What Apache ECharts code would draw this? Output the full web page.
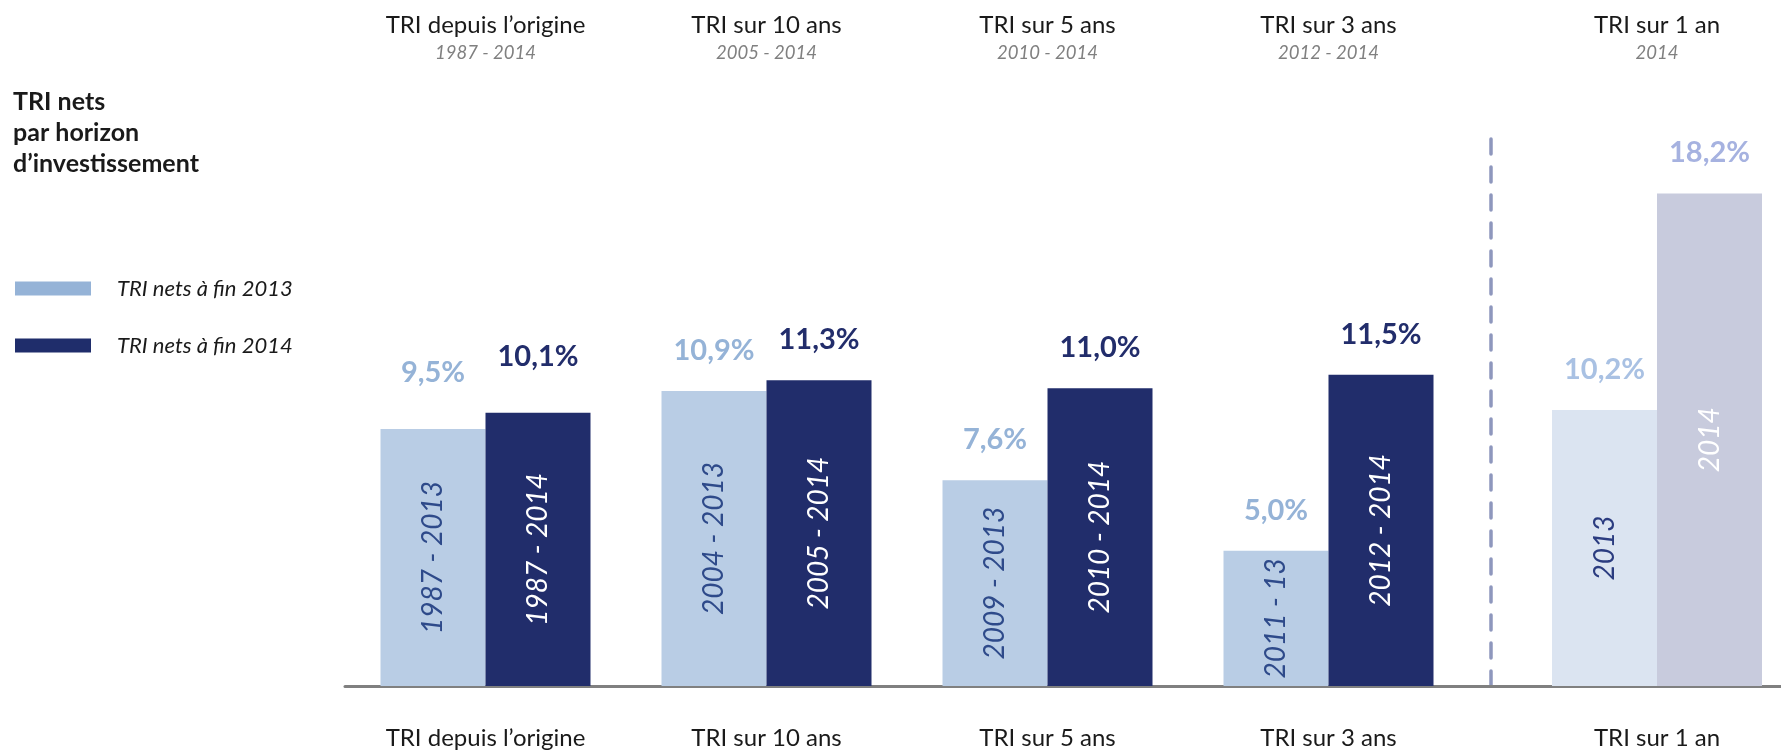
<!DOCTYPE html>
<html>
<head>
<meta charset="utf-8">
<script src="https://cdn.jsdelivr.net/npm/echarts@6/dist/echarts.min.js"></script>
<style>
  html, body { margin: 0; padding: 0; background: #fff; }
  #main { width: 1781px; height: 751px; }
</style>
</head>
<body>
<div id="main"></div>
<script type="text/javascript">
// horizons (4 first groups)
var horizons = ['TRI depuis l\u2019origine', 'TRI sur 10 ans', 'TRI sur 5 ans', 'TRI sur 3 ans'];
var horizonYears = ['1987 - 2014', '2005 - 2014', '2010 - 2014', '2012 - 2014'];
var tri2013 = [9.5, 10.9, 7.6, 5.0];
var tri2014 = [10.1, 11.3, 11.0, 11.5];
var periods2013 = ['1987 - 2013', '2004 - 2013', '2009 - 2013', '2011 - 13'];
var periods2014 = ['1987 - 2014', '2005 - 2014', '2010 - 2014', '2012 - 2014'];

// horizon 1 an (separate group, right of the dashed line)
var oneYear = ['TRI sur 1 an'];
var oneYearYears = ['2014'];
var oneYear2013 = [10.2];
var oneYear2014 = [18.2];
var oneYearPeriods2013 = ['2013'];
var oneYearPeriods2014 = ['2014'];

var legendNames = ['TRI nets \u00e0 fin 2013', 'TRI nets \u00e0 fin 2014'];

var FONT = 'Lato, "Open Sans", sans-serif';
var Y_MAX = 20.4;

function pct(v) {
    return v.toFixed(1).replace('.', ',') + '%';
}

var myChart = echarts.init(document.getElementById('main'));

function periodLabel(list, color) {
    return {
        show: true,
        position: 'inside',
        rotate: 90,
        fontFamily: FONT,
        fontStyle: 'italic',
        fontSize: 28,
        color: color,
        formatter: function (p) { return list[p.dataIndex]; }
    };
}

function pctLabel(color) {
    return {
        show: true,
        position: 'top',
        distance: 26,
        fontFamily: FONT,
        fontWeight: 'bold',
        fontSize: 29,
        color: color,
        formatter: function (p) { return pct(p.value); }
    };
}

// percent labels: transparent bars on the top axis, same geometry
function pctData(values, firstDist) {
    return values.map(function (v, i) {
        var d = { value: v };
        if (i === 0 && firstDist) d.label = { distance: firstDist };
        return d;
    });
}

var topLabel = {
    margin: 67,
    formatter: function (v, i) { return '{t|' + v + '}\n{y|' + (v === oneYear[0] ? oneYearYears[0] : horizonYears[i]) + '}'; },
    rich: {
        t: { fontFamily: FONT, fontSize: 24, color: '#1a1a1a', lineHeight: 28 },
        y: { fontFamily: FONT, fontSize: 18.5, fontStyle: 'italic', color: '#808080', lineHeight: 28 }
    }
};

var bottomLabel = { margin: 40, fontFamily: FONT, fontSize: 24, color: '#1a1a1a' };

var option = {
    animation: false,
    backgroundColor: '#fff',
    title: {
        text: 'TRI nets\npar horizon\nd\u2019investissement',
        left: 13,
        top: 86.5,
        padding: 0,
        textStyle: { fontFamily: FONT, fontSize: 25, fontWeight: 'bold', color: '#1a1a1a', lineHeight: 31 }
    },
    legend: {
        orient: 'vertical',
        left: 15,
        top: 277.5,
        padding: 0,
        itemWidth: 76,
        itemHeight: 14,
        itemGap: 35,
        icon: 'rect',
        selectedMode: false,
        textStyle: { fontFamily: FONT, fontSize: 22, fontStyle: 'italic', color: '#1a1a1a', padding: [0, 0, 0, 21] },
        data: [
            { name: legendNames[0], itemStyle: { color: '#95b3d7' } },
            { name: legendNames[1], itemStyle: { color: '#1f2d6b' } }
        ]
    },
    grid: [
        { left: 345, width: 1124, top: 134, bottom: 65 },
        { left: 1469, width: 376, top: 134, bottom: 65, outerBoundsMode: 'none' }
    ],
    xAxis: [
        {
            type: 'category', gridIndex: 0, data: horizons,
            axisLine: { lineStyle: { color: '#808080', width: 3 } },
            axisTick: { show: false },
            axisLabel: bottomLabel
        },
        {
            type: 'category', gridIndex: 0, position: 'top', data: horizons,
            axisLine: { show: false }, axisTick: { show: false },
            axisLabel: topLabel
        },
        {
            type: 'category', gridIndex: 1, data: oneYear,
            axisLine: { lineStyle: { color: '#808080', width: 3 } },
            axisTick: { show: false },
            axisLabel: bottomLabel
        },
        {
            type: 'category', gridIndex: 1, position: 'top', data: oneYear,
            axisLine: { show: false }, axisTick: { show: false },
            axisLabel: topLabel
        }
    ],
    yAxis: [
        { type: 'value', gridIndex: 0, min: 0, max: Y_MAX, show: false },
        { type: 'value', gridIndex: 1, min: 0, max: Y_MAX, show: false },
        {
            type: 'value', gridIndex: 0, min: 0, max: Y_MAX, position: 'right', offset: 22,
            axisLine: { show: true, lineStyle: { color: '#8e97bd', width: 3.5, type: [15, 13] } },
            axisTick: { show: false }, axisLabel: { show: false }, splitLine: { show: false }
        }
    ],
    series: [
        {
            name: legendNames[0], type: 'bar', xAxisIndex: 0, yAxisIndex: 0,
            barWidth: 105, barGap: '0%', data: tri2013,
            itemStyle: { color: '#b9cde5' },
            label: periodLabel(periods2013, '#2e4a8a')
        },
        {
            name: legendNames[1], type: 'bar', xAxisIndex: 0, yAxisIndex: 0,
            barWidth: 105, barGap: '0%', data: tri2014,
            itemStyle: { color: '#212d6b' },
            label: periodLabel(periods2014, '#ffffff')
        },
        {
            name: 'pct2013', type: 'bar', xAxisIndex: 1, yAxisIndex: 0,
            barWidth: 105, barGap: '0%', data: pctData(tri2013, 42),
            itemStyle: { color: 'rgba(0,0,0,0)' }, silent: true,
            label: pctLabel('#95b3d7')
        },
        {
            name: 'pct2014', type: 'bar', xAxisIndex: 1, yAxisIndex: 0,
            barWidth: 105, barGap: '0%', data: pctData(tri2014, 42),
            itemStyle: { color: 'rgba(0,0,0,0)' }, silent: true,
            label: pctLabel('#222d6b')
        },
        {
            name: legendNames[0], type: 'bar', xAxisIndex: 2, yAxisIndex: 1,
            barWidth: 105, barGap: '0%', data: oneYear2013,
            itemStyle: { color: '#dbe4f1' },
            label: periodLabel(oneYearPeriods2013, '#2b3c80')
        },
        {
            name: legendNames[1], type: 'bar', xAxisIndex: 2, yAxisIndex: 1,
            barWidth: 105, barGap: '0%', data: oneYear2014,
            itemStyle: { color: '#c8cbdd' },
            label: periodLabel(oneYearPeriods2014, '#ffffff')
        },
        {
            name: 'pct1an2013', type: 'bar', xAxisIndex: 3, yAxisIndex: 1,
            barWidth: 105, barGap: '0%', data: oneYear2013,
            itemStyle: { color: 'rgba(0,0,0,0)' }, silent: true,
            label: pctLabel('#a9c1e3')
        },
        {
            name: 'pct1an2014', type: 'bar', xAxisIndex: 3, yAxisIndex: 1,
            barWidth: 105, barGap: '0%', data: oneYear2014,
            itemStyle: { color: 'rgba(0,0,0,0)' }, silent: true,
            label: pctLabel('#a6b2e0')
        }
    ]
};

myChart.setOption(option);
</script>
</body>
</html>
